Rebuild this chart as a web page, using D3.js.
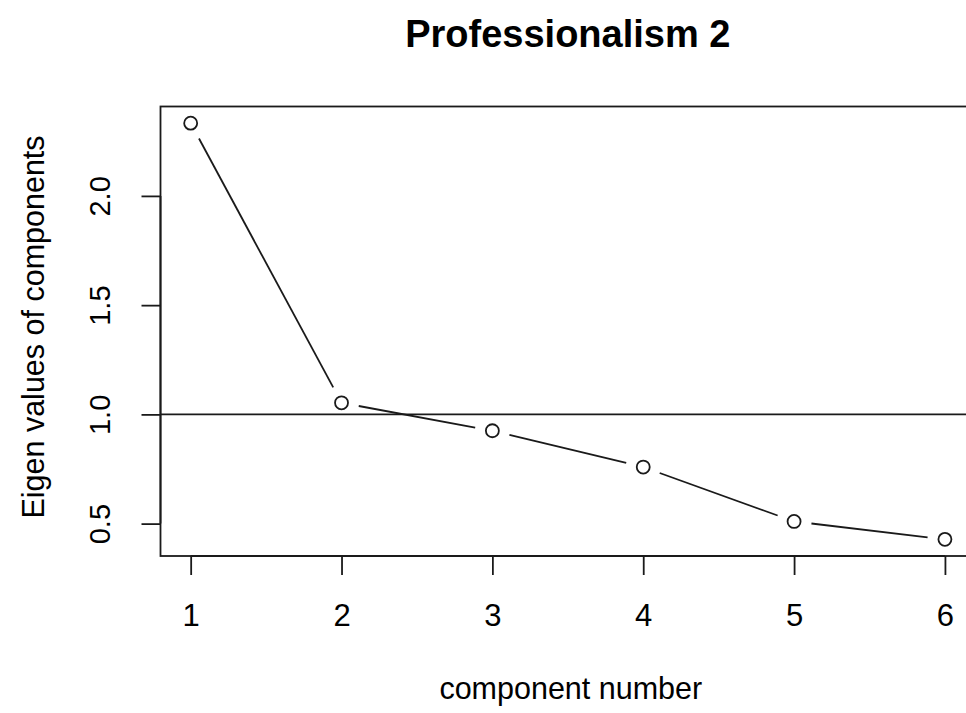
<!DOCTYPE html>
<html>
<head>
<meta charset="utf-8">
<script src="https://cdn.jsdelivr.net/npm/d3@7"></script>
<style>
  html, body { margin: 0; padding: 0; background: #fff; }
  svg { display: block; }
  text { font-family: "Liberation Sans", Arial, sans-serif; fill: #000; }
</style>
</head>
<body>
<svg id="chart" width="966" height="713"></svg>
<script>
const title = "Professionalism 2";
const xLabel = "component number";
const yLabel = "Eigen values of components";
const components = [1, 2, 3, 4, 5, 6];
const eigenvalues = [2.333, 1.053, 0.925, 0.759, 0.510, 0.428];
const xTicks = [1, 2, 3, 4, 5, 6];
const yTicks = [0.5, 1.0, 1.5, 2.0];
const refLine = 1;

const svg = d3.select("#chart");
const plot = { left: 160.5, right: 975.1, top: 106.5, bottom: 556 };
const ink = "#1a1a1a";

// R-style 4% axis extension
function extend(ext) { const d = (ext[1] - ext[0]) * 0.04; return [ext[0] - d, ext[1] + d]; }
const x = d3.scaleLinear().domain(extend(d3.extent(components))).range([plot.left, plot.right]);
const y = d3.scaleLinear().domain(extend(d3.extent(eigenvalues))).range([plot.bottom, plot.top]);

const data = components.map((c, i) => ({ c, v: eigenvalues[i] }));

// reference line
svg.append("line")
  .attr("x1", plot.left).attr("x2", plot.right)
  .attr("y1", y(refLine)).attr("y2", y(refLine))
  .attr("stroke", ink).attr("stroke-width", 1.8);

// line segments with gaps (type = "b")
const gap = 17.5;
for (let i = 0; i < data.length - 1; i++) {
  const x0 = x(data[i].c), y0 = y(data[i].v), x1 = x(data[i + 1].c), y1 = y(data[i + 1].v);
  const dx = x1 - x0, dy = y1 - y0, L = Math.hypot(dx, dy);
  const ux = dx / L, uy = dy / L;
  svg.append("line")
    .attr("x1", x0 + ux * gap).attr("y1", y0 + uy * gap)
    .attr("x2", x1 - ux * gap).attr("y2", y1 - uy * gap)
    .attr("stroke", ink).attr("stroke-width", 1.8);
}

// points
svg.selectAll("circle.pt").data(data).enter().append("circle")
  .attr("class", "pt")
  .attr("cx", d => x(d.c)).attr("cy", d => y(d.v)).attr("r", 6.5)
  .attr("fill", "none").attr("stroke", ink).attr("stroke-width", 1.8);

// box
svg.append("rect")
  .attr("x", plot.left).attr("y", plot.top)
  .attr("width", plot.right - plot.left).attr("height", plot.bottom - plot.top)
  .attr("fill", "none").attr("stroke", ink).attr("stroke-width", 1.8);

// x axis
const xAxis = d3.axisBottom(x).tickValues(xTicks).tickSize(19).tickPadding(0).tickFormat(d3.format("d"));
const gx = svg.append("g").attr("transform", `translate(0,${plot.bottom})`).call(xAxis);
gx.select(".domain").attr("d", `M${x(xTicks[0])},0H${x(xTicks[xTicks.length-1])}`).attr("stroke", ink).attr("stroke-width", 1.8);
gx.selectAll(".tick line").attr("stroke", ink).attr("stroke-width", 1.8);
gx.selectAll(".tick text").attr("dy", null).attr("y", 69.5).attr("font-size", 31)
  .style("font-family", '"Liberation Sans", Arial, sans-serif').attr("fill", "#000");

// y axis
const yAxis = d3.axisLeft(y).tickValues(yTicks).tickSize(19).tickFormat(d3.format(".1f"));
const gy = svg.append("g").attr("transform", `translate(${plot.left},0)`).call(yAxis);
gy.select(".domain").attr("d", `M0,${y(yTicks[0])}V${y(yTicks[yTicks.length-1])}`).attr("stroke", ink).attr("stroke-width", 1.8);
gy.selectAll(".tick line").attr("stroke", ink).attr("stroke-width", 1.8);
gy.selectAll(".tick text")
  .attr("x", null).attr("dy", null).attr("text-anchor", "middle")
  .attr("transform", `translate(${109.5 - plot.left},0) rotate(-90)`)
  .attr("font-size", 29)
  .style("font-family", '"Liberation Sans", Arial, sans-serif').attr("fill", "#000");

// title
svg.append("text").attr("x", (plot.left + plot.right) / 2).attr("y", 46.5)
  .attr("text-anchor", "middle").attr("font-size", 38).attr("font-weight", "bold").text(title);

// axis labels
svg.append("text").attr("x", (plot.left + plot.right) / 2 + 3).attr("y", 699)
  .attr("text-anchor", "middle").attr("font-size", 30.5).text(xLabel);
svg.append("text").attr("transform", `translate(43.5,327) rotate(-90)`)
  .attr("text-anchor", "middle").attr("font-size", 30.5).text(yLabel);
</script>
</body>
</html>
